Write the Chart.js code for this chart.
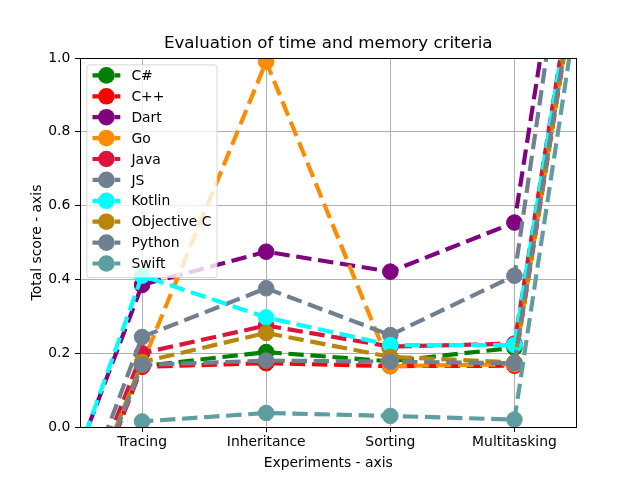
<!DOCTYPE html>
<html>
<head>
<meta charset="utf-8">
<script src="https://cdn.jsdelivr.net/npm/chart.js@4.4.1/dist/chart.umd.min.js"></script>
<style>
    body { margin: 0; background: #fff; }
    canvas { display: block; }
</style>
</head>
<body>
<canvas id="scores" width="640" height="480"></canvas>
<script>
// categories on the x axis (at positions 1..4); points 0 and 5 are the off-axis line ends
const experiments = ['Tracing', 'Inheritance', 'Sorting', 'Multitasking'];
const xPos = [0, 1, 2, 3, 4, 5];

const languages = ['C#', 'C++', 'Dart', 'Go', 'Java', 'JS', 'Kotlin', 'Objective C', 'Python', 'Swift'];
const colors = ['#008000', '#ff0000', '#800080', '#ff8c00', '#dc143c', '#708090', '#00ffff', '#b8860b', '#708090', '#5f9ea0'];

// total score per language: [start, Tracing, Inheritance, Sorting, Multitasking, end]
const csharp  = [-0.69, 0.165, 0.203, 0.178, 0.215, 2.31];
const cpp     = [-0.69, 0.163, 0.173, 0.165, 0.166, 2.27];
const dart    = [-0.50, 0.385, 0.475, 0.421, 0.554, 2.69];
const golang  = [-0.68, 0.170, 0.990, 0.165, 0.170, 2.28];
const java    = [-0.65, 0.200, 0.275, 0.218, 0.226, 2.32];
const js      = [-0.65, 0.244, 0.376, 0.249, 0.410, 2.71];
const kotlin  = [-0.53, 0.410, 0.297, 0.222, 0.222, 2.31];
const objc    = [-0.67, 0.176, 0.255, 0.190, 0.175, 2.28];
const python  = [-0.68, 0.168, 0.180, 0.177, 0.173, 2.28];
const swift   = [-0.83, 0.015, 0.038, 0.030, 0.020, 2.24];

const series = [csharp, cpp, dart, golang, java, js, kotlin, objc, python, swift];

const FONT = 'DejaVu Sans';
const DASH = [15.4, 6.7];
const LW = 4.17;
const MR = 7.8;

Chart.defaults.font.family = FONT;
Chart.defaults.font.size = 13.9;
Chart.defaults.color = '#000';

var datasets = [];
for (var i = 0; i < series.length; i++) {
    datasets.push({
        label: languages[i],
        data: series[i].map((v, j) => ({x: xPos[j], y: v})),
        borderColor: colors[i],
        backgroundColor: colors[i],
        borderWidth: LW,
        borderDash: DASH,
        pointRadius: ctx => (ctx.dataIndex === 0 || ctx.dataIndex === xPos.length - 1) ? 0 : MR,
        pointBorderWidth: 1,
        pointBorderColor: colors[i],
        pointBackgroundColor: colors[i],
        tension: 0,
        clip: 0,
        order: series.length - 1 - i
    });
}

// title, axis titles, frame and legend drawn the matplotlib way
const decorations = {
    id: 'decorations',
    afterDraw(chart) {
        const c = chart.ctx;
        const a = chart.chartArea;
        c.save();

        // frame
        c.strokeStyle = '#000';
        c.lineWidth = 1;
        c.strokeRect(Math.round(a.left) + 0.5, Math.round(a.top) + 0.5,
            Math.round(a.right) - Math.round(a.left) - 1, Math.round(a.bottom) - Math.round(a.top));

        // titles
        c.fillStyle = '#000';
        c.textAlign = 'center';
        c.textBaseline = 'alphabetic';
        c.font = '16.7px ' + FONT;
        c.fillText('Evaluation of time and memory criteria', (a.left + a.right) / 2, 48);
        c.font = '13.9px ' + FONT;
        c.fillText('Experiments - axis', (a.left + a.right) / 2, 467);
        c.save();
        c.translate(41, (a.top + a.bottom) / 2);
        c.rotate(-Math.PI / 2);
        c.fillText('Total score - axis', 0, 0);
        c.restore();

        // legend
        const boxL = a.left + 6.9, boxT = a.top + 6.9;
        const handleL = boxL + 5.6, handleR = handleL + 27.8;
        const textX = handleR + 11.1;
        let maxW = 0;
        for (var i = 0; i < languages.length; i++) {
            maxW = Math.max(maxW, c.measureText(languages[i]).width);
        }
        const boxR = textX + maxW + 5.6;
        const rowH = 20.9, firstY = boxT + 10.5;
        const boxB = firstY + rowH * (languages.length - 1) + 14;
        c.beginPath();
        c.roundRect(boxL, boxT, boxR - boxL, boxB - boxT, 3);
        c.fillStyle = 'rgba(255,255,255,0.8)';
        c.fill();
        c.strokeStyle = 'rgba(204,204,204,0.8)';
        c.lineWidth = 1;
        c.stroke();

        c.textAlign = 'left';
        c.textBaseline = 'middle';
        for (var i = 0; i < languages.length; i++) {
            const y = firstY + rowH * i;
            c.strokeStyle = colors[i];
            c.lineWidth = LW;
            c.setLineDash(DASH);
            c.beginPath();
            c.moveTo(handleL, y);
            c.lineTo(handleR, y);
            c.stroke();
            c.setLineDash([]);
            c.fillStyle = colors[i];
            c.beginPath();
            c.arc((handleL + handleR) / 2, y, MR + 0.5, 0, Math.PI * 2);
            c.fill();
            c.fillStyle = '#000';
            c.fillText(languages[i], textX, y + 1);
        }
        c.restore();
    }
};

const ctx = document.getElementById('scores');
new Chart(ctx, {
    type: 'line',
    data: { datasets: datasets },
    options: {
        responsive: false,
        animation: false,
        layout: { padding: { top: 58, right: 63.5, bottom: 0, left: 0 } },
        scales: {
            x: {
                type: 'linear',
                min: 0.5,
                max: 4.5,
                afterBuildTicks: scale => { scale.ticks = experiments.map((e, k) => ({value: k + 1})); },
                afterFit: scale => { scale.height = 53; },
                ticks: {
                    padding: 2,
                    maxRotation: 0,
                    autoSkip: false,
                    callback: value => experiments[value - 1]
                },
                grid: { color: '#b0b0b0', lineWidth: 1, tickColor: '#000', tickLength: 5 },
                border: { color: '#000', width: 1 }
            },
            y: {
                min: 0,
                max: 1,
                afterFit: scale => { scale.width = 80; },
                ticks: {
                    stepSize: 0.2,
                    padding: 4.7,
                    callback: value => value.toFixed(1)
                },
                grid: { color: '#b0b0b0', lineWidth: 1, tickColor: '#000', tickLength: 5 },
                border: { color: '#000', width: 1 }
            }
        },
        plugins: {
            legend: { display: false },
            title: { display: false },
            tooltip: { enabled: false }
        }
    },
    plugins: [decorations]
});
</script>
</body>
</html>
